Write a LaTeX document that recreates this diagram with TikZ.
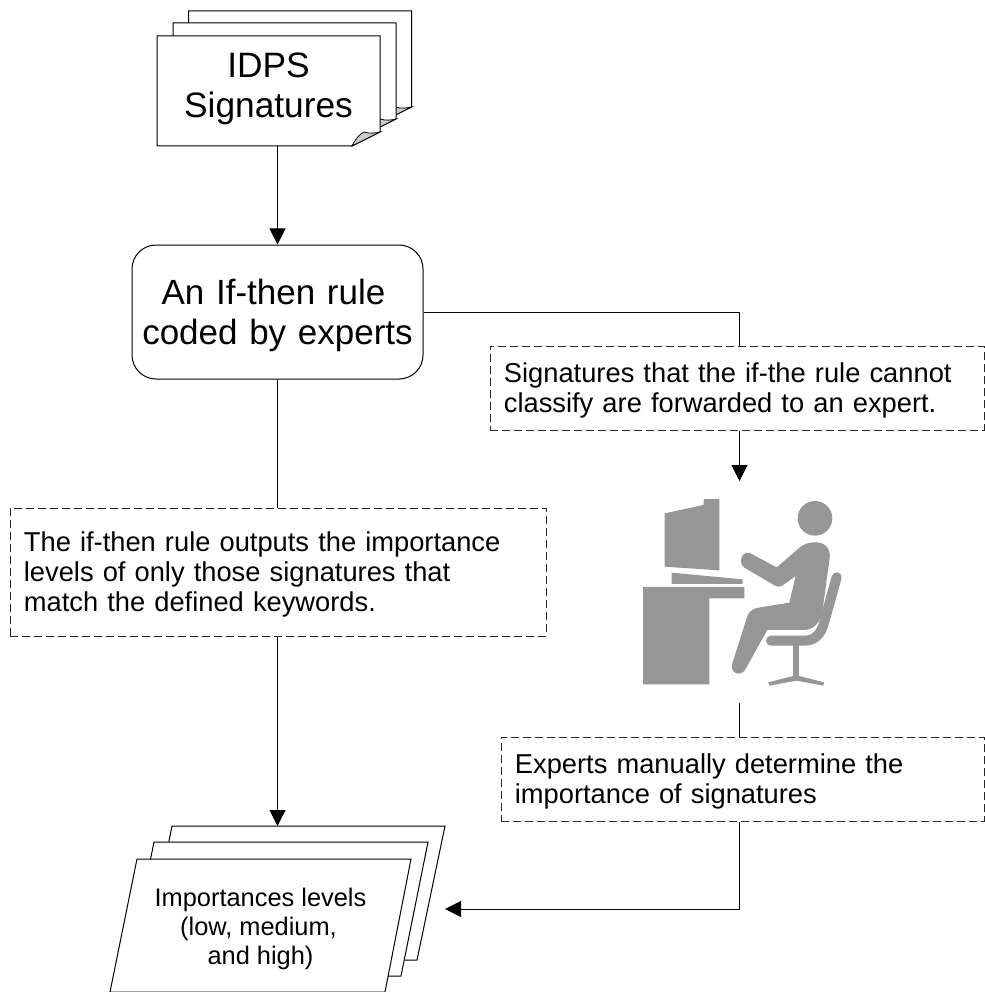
\documentclass[tikz,border=0pt]{standalone}
\usepackage{fontspec}
\setmainfont{Liberation Sans}
\usetikzlibrary{arrows.meta,calc}
\definecolor{figgray}{HTML}{969696}
\definecolor{foldgray}{HTML}{CCCCCC}
\tikzset{
  x=1pt,y=-1pt,
  conn/.style={line width=1pt,draw=black},
  arr/.style={conn,-{Triangle[width=16pt,length=16pt]}},
  sheet/.style={draw=black,line width=1pt,fill=white},
  fold/.style={draw=black,line width=.8pt,fill=foldgray},
  notebox/.style={draw=black!85,line width=.8pt,dash pattern=on 8pt off 4pt,fill=white,anchor=north west,inner sep=0pt,inner xsep=14pt,align=left,font=\fontsize{27.3}{29.8}\selectfont,execute at begin node={\rule{0pt}{23.5pt}}},
  big/.style={font=\fontsize{35.3}{40}\selectfont,align=center,inner sep=0pt},
  fig/.style={fill=figgray,draw=none}
}
\newcommand{\docsheet}[2]{%
  \begin{scope}[shift={(#1,#2)}]
    \draw[sheet] (157,36) -- (380,36) -- (380,132) -- (352,146) -- (157,146) -- cycle;
    \draw[fold] (380,132) -- (352,146) .. controls (356,138) and (360,134) .. (364,132) .. controls (370,134) and (376,133) .. (380,132) -- cycle;
  \end{scope}}
\begin{document}
\begin{tikzpicture}
\useasboundingbox (0,0) rectangle (984,992);
% stacked documents
\docsheet{31.5}{-25}
\docsheet{16}{-13}
\docsheet{0}{0}
\node[big,minimum width=223pt,minimum height=110pt] (doc) at (268.5,89) {IDPS\\Signatures};
\coordinate (docout) at (277.5,146);
% rule
\node[draw=black,line width=1pt,rounded corners=24pt,text width=291pt,minimum height=134pt,big,font=\fontsize{35}{40}\selectfont,execute at begin node={\rule{0pt}{32pt}}] (rule) at (277.5,312) {An If-then rule\kern8pt\\coded by experts};
% notes
\node[notebox,text width=508pt,minimum height=128pt] (noteL) at (9.5,508) {The if-then rule outputs the importance\\levels of only those signatures that\\match the defined keywords.};
\node[notebox,text width=466pt,minimum height=84pt] (noteR) at (489.5,346) {Signatures that the if-the rule cannot\\classify are forwarded to an expert.};
\node[notebox,text width=455pt,minimum height=84pt] (noteE) at (500.5,737) {Experts manually determine the\\importance of signatures};
% levels stack
\draw[sheet] (172,826) -- (445,826) -- (417,960) -- (145,960) -- cycle;
\draw[sheet] (154,842) -- (428,842) -- (401,976) -- (127,976) -- cycle;
\draw[sheet] (137,859) -- (411,859) -- (385,992) -- (110,992) -- cycle;
\node[font=\fontsize{25.4}{29}\selectfont,align=center,inner sep=0pt] (levels) at (260.5,929) {Importances levels\\(low, medium,\kern4pt\\and high)};
\coordinate (levelsin) at (277.5,826);
\coordinate (levelsside) at (445,909);
% person figure
\begin{scope}[shift={(630,490)},x=.3333pt,y=-.3333pt]
  \fill[fig] (104,70) -- (220,45) -- (222,27) -- (268,27) -- (268,241) -- (104,230) -- cycle;
  \fill[fig] (125,248) -- (338,268) -- (338,282) -- (125,282) -- cycle;
  \fill[fig] (39,291) -- (343,291) -- (343,325) -- (238,325) -- (238,583) -- (39,583) -- cycle;
  \fill[fig] (555,85) circle[radius=52];
  \fill[fig] (550,157) .. controls (585,155) and (603,175) .. (599,205)
    -- (577,365) .. controls (570,400) and (550,420) .. (520,420)
    -- (412,420) -- (345,540) .. controls (330,562) and (298,548) .. (307,520)
    -- (350,385) .. controls (355,365) and (365,357) .. (385,353)
    -- (478,338) -- (497,258) -- (460,285) .. controls (448,293) and (440,290) .. (430,284)
    -- (343,233) .. controls (320,215) and (340,175) .. (365,192)
    -- (440,232) -- (510,172) .. controls (522,162) and (535,158) .. (550,157) -- cycle;
  \draw[figgray,line width=10pt,line cap=round,line join=round] (620,262) -- (583,395) .. controls (575,430) and (555,452) .. (525,452) -- (423,452);
  \fill[fig] (488,460) rectangle (508,562);
  \fill[fig] (415,577) -- (490,558) -- (508,558) -- (582,577) -- (580,587) -- (500,572) -- (418,587) -- cycle;
\end{scope}
\coordinate (personin) at (739.5,481);
\coordinate (personout) at (739.5,703);
% connectors
\draw[arr] (docout) -- (rule.north -| docout);
\draw[conn] (rule.south) -- (noteL.north -| rule.south);
\draw[arr] (noteL.south -| rule.south) -- (levelsin);
\draw[conn] (rule.east) -| (noteR.north -| personin);
\draw[arr] (noteR.south -| personin) -- (personin);
\draw[conn] (personout) -- (noteE.north -| personout);
\draw[arr] (noteE.south -| personout) |- (levelsside);
\end{tikzpicture}
\end{document}
